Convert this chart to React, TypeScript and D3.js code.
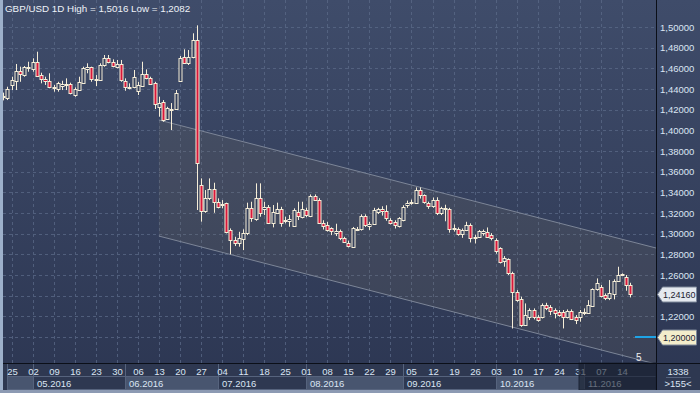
import React from 'react';
import * as d3 from 'd3';

const startDate = Date.UTC(2016, 3, 21);
const opens = [
  1.4322, 1.4310,
  1.4439, 1.4480, 1.4577, 1.4535, 1.4603,
  1.4591, 1.4664, 1.4535, 1.4494, 1.4480, 1.4422, 1.4397, 1.4432, 1.4447, 1.4445, 1.4342, 1.4390, 1.4461, 1.4597, 1.4610, 1.4494, 1.4487, 1.4632, 1.4697, 1.4664, 1.4616, 1.4642,
  1.4480, 1.4420, 1.4422, 1.4384, 1.4429, 1.4545, 1.4503, 1.4458, 1.4223, 1.4277, 1.4107, 1.4200, 1.4203, 1.4477, 1.4707, 1.4649, 1.4707, 1.4874, 1.3470, 1.3222, 1.3342, 1.3429,
  1.3309, 1.3285, 1.3293, 1.3035, 1.2938, 1.2912, 1.2945, 1.3003, 1.3245, 1.3139, 1.3342, 1.3235, 1.3255, 1.3106, 1.3203, 1.3235, 1.3128, 1.3122, 1.3074, 1.3212, 1.3163,
  1.3228, 1.3172, 1.3364, 1.3325, 1.3106, 1.3083, 1.3051, 1.3003, 1.3028, 1.2954, 1.2912, 1.2874, 1.3048, 1.3042, 1.3170, 1.3078, 1.3092, 1.3205, 1.3235, 1.3222, 1.3132, 1.3115, 1.3074,
  1.3130, 1.3274, 1.3298, 1.3300, 1.3425, 1.3370, 1.3300, 1.3267, 1.3330, 1.3197, 1.3245, 1.3240, 1.3055, 1.3045, 1.2995, 1.3035, 1.3083, 1.2965, 1.2970, 1.3010, 1.3020, 1.2990,
  1.2935, 1.2858, 1.2738, 1.2751, 1.2622, 1.2438, 1.2364, 1.2115, 1.2190, 1.2261, 1.2196, 1.2190, 1.2309, 1.2293, 1.2261, 1.2244, 1.2244, 1.2190, 1.2254, 1.2196, 1.2196,
  1.2228, 1.2235, 1.2300, 1.2461, 1.2486, 1.2406, 1.2374, 1.2415, 1.2544, 1.2600, 1.2583, 1.2503,
];
const highs = [
  1.4365, 1.4422,
  1.4519, 1.4642, 1.4616, 1.4622, 1.4664,
  1.4697, 1.4761, 1.4558, 1.4519, 1.4552, 1.4439, 1.4470, 1.4480, 1.4503, 1.4461, 1.4416, 1.4519, 1.4616, 1.4649, 1.4616, 1.4535, 1.4649, 1.4729, 1.4729, 1.4687, 1.4681, 1.4681,
  1.4503, 1.4455, 1.4584, 1.4470, 1.4664, 1.4590, 1.4519, 1.4470, 1.4325, 1.4293, 1.4228, 1.4264, 1.4390, 1.4719, 1.4784, 1.4777, 1.4939, 1.5016, 1.3535, 1.3422, 1.3535, 1.3493,
  1.3342, 1.3325, 1.3300, 1.3051, 1.2970, 1.3018, 1.3042, 1.3300, 1.3309, 1.3487, 1.3487, 1.3309, 1.3277, 1.3277, 1.3300, 1.3260, 1.3164, 1.3180, 1.3245, 1.3309, 1.3309,
  1.3252, 1.3380, 1.3380, 1.3343, 1.3130, 1.3115, 1.3061, 1.3096, 1.3040, 1.2970, 1.2932, 1.3065, 1.3065, 1.3187, 1.3187, 1.3115, 1.3250, 1.3250, 1.3265, 1.3275, 1.3150, 1.3130, 1.3160,
  1.3275, 1.3320, 1.3330, 1.3448, 1.3448, 1.3380, 1.3310, 1.3350, 1.3352, 1.3260, 1.3280, 1.3250, 1.3090, 1.3060, 1.3050, 1.3115, 1.3100, 1.2990, 1.3035, 1.3040, 1.3060, 1.3005,
  1.2955, 1.2868, 1.2783, 1.2761, 1.2632, 1.2454, 1.2390, 1.2325, 1.2277, 1.2277, 1.2212, 1.2325, 1.2331, 1.2309, 1.2277, 1.2261, 1.2261, 1.2267, 1.2267, 1.2212, 1.2261,
  1.2277, 1.2357, 1.2471, 1.2567, 1.2503, 1.2422, 1.2551, 1.2558, 1.2680, 1.2616, 1.2600, 1.2525,
];
const lows = [
  1.4290, 1.4293,
  1.4390, 1.4390, 1.4470, 1.4519, 1.4567,
  1.4567, 1.4519, 1.4455, 1.4439, 1.4407, 1.4374, 1.4374, 1.4390, 1.4390, 1.4348, 1.4325, 1.4383, 1.4455, 1.4552, 1.4470, 1.4429, 1.4480, 1.4616, 1.4649, 1.4610, 1.4600, 1.4470,
  1.4383, 1.4397, 1.4407, 1.4342, 1.4422, 1.4494, 1.4439, 1.4206, 1.4132, 1.4083, 1.4100, 1.4003, 1.4197, 1.4470, 1.4642, 1.4632, 1.4697, 1.3229, 1.3116, 1.3202, 1.3325, 1.3202,
  1.3245, 1.3245, 1.3003, 1.2800, 1.2880, 1.2874, 1.2841, 1.2986, 1.3115, 1.3125, 1.3164, 1.3180, 1.3093, 1.3061, 1.3190, 1.3067, 1.3100, 1.3067, 1.3067, 1.3132, 1.3148,
  1.3160, 1.3160, 1.3318, 1.3094, 1.3040, 1.3020, 1.2986, 1.2977, 1.2937, 1.2912, 1.2867, 1.2867, 1.3025, 1.3030, 1.3065, 1.3036, 1.3085, 1.3190, 1.3175, 1.3125, 1.3090, 1.3050, 1.3060,
  1.3120, 1.3250, 1.3280, 1.3290, 1.3340, 1.3290, 1.3240, 1.3250, 1.3180, 1.3180, 1.3120, 1.3010, 1.3020, 1.2980, 1.2960, 1.3025, 1.2915, 1.2905, 1.2960, 1.2980, 1.2960, 1.2935,
  1.2806, 1.2712, 1.2680, 1.2600, 1.2082, 1.2341, 1.2099, 1.2108, 1.2164, 1.2170, 1.2148, 1.2180, 1.2260, 1.2212, 1.2180, 1.2196, 1.2083, 1.2180, 1.2164, 1.2125, 1.2148,
  1.2212, 1.2228, 1.2293, 1.2448, 1.2383, 1.2357, 1.2357, 1.2364, 1.2535, 1.2590, 1.2448, 1.2383,
];
const closes = [
  1.4328, 1.4397,
  1.4487, 1.4577, 1.4542, 1.4610, 1.4616,
  1.4664, 1.4529, 1.4494, 1.4480, 1.4416, 1.4407, 1.4455, 1.4448, 1.4443, 1.4358, 1.4397, 1.4470, 1.4600, 1.4616, 1.4494, 1.4485, 1.4632, 1.4697, 1.4664, 1.4622, 1.4642, 1.4487,
  1.4416, 1.4424, 1.4513, 1.4439, 1.4545, 1.4503, 1.4448, 1.4255, 1.4267, 1.4100, 1.4213, 1.4208, 1.4358, 1.4697, 1.4649, 1.4707, 1.4874, 1.3681, 1.3222, 1.3342, 1.3429, 1.3309,
  1.3260, 1.3290, 1.3018, 1.2938, 1.2912, 1.2954, 1.3003, 1.3245, 1.3148, 1.3342, 1.3197, 1.3260, 1.3106, 1.3212, 1.3235, 1.3106, 1.3133, 1.3138, 1.3228, 1.3170, 1.3235,
  1.3180, 1.3364, 1.3325, 1.3106, 1.3074, 1.3035, 1.3028, 1.3028, 1.2954, 1.2922, 1.2880, 1.3051, 1.3045, 1.3170, 1.3083, 1.3092, 1.3228, 1.3235, 1.3215, 1.3155, 1.3106, 1.3083, 1.3150,
  1.3260, 1.3300, 1.3302, 1.3425, 1.3370, 1.3305, 1.3267, 1.3325, 1.3197, 1.3245, 1.3250, 1.3050, 1.3045, 1.2995, 1.3035, 1.3083, 1.2955, 1.2970, 1.3028, 1.3022, 1.2970, 1.2958,
  1.2832, 1.2728, 1.2762, 1.2616, 1.2438, 1.2357, 1.2115, 1.2212, 1.2261, 1.2190, 1.2164, 1.2309, 1.2277, 1.2254, 1.2235, 1.2212, 1.2190, 1.2254, 1.2170, 1.2164, 1.2244,
  1.2244, 1.2309, 1.2461, 1.2519, 1.2396, 1.2374, 1.2422, 1.2544, 1.2600, 1.2606, 1.2503, 1.2416,
];

const priceTicks = [1.20, 1.22, 1.24, 1.26, 1.28, 1.30, 1.32, 1.34, 1.36, 1.38, 1.40, 1.42, 1.44, 1.46, 1.48, 1.50];
const channelIdx = [37, 155.1];
const channelUpper = [1.4100, 1.2861];
const channelLower = [1.2977, 1.1738];
const alertLevel = 1.2;
const titleText = 'GBP/USD 1D High = 1,5016 Low = 1,2082';
const cornerTop = '1338';
const cornerBottom = '>155<';
const channelLabel = '5';

const W = 700;
const H = 393;
const PR = 656; // plot right
const PB = 363; // plot bottom
const FONT = '"Liberation Sans", Arial, sans-serif';
const fmt = (v: number) => v.toFixed(5).replace('.', ',');

export default function App() {
  const n = closes.length;
  const days = d3
    .utcDay.range(new Date(startDate), new Date(Date.UTC(2016, 11, 31)))
    .filter((d) => d.getUTCDay() !== 0 && d.getUTCDay() !== 6)
    .slice(0, n);
  const x = d3.scaleLinear().domain([0, n - 1]).range([3.08, 3.08 + (n - 1) * 4.21]);
  const y = d3.scaleLinear().domain([1.2, 1.5]).range([337, 27]);

  const mondays = days.map((d, i) => (d.getUTCDay() === 1 ? i : -1)).filter((i) => i >= 0);
  const monthStarts = days
    .map((d, i) => (i === 0 || d.getUTCMonth() !== days[i - 1].getUTCMonth() ? i : -1))
    .filter((i) => i >= 0);
  const dayFmt = d3.utcFormat('%d');
  const monFmt = d3.utcFormat('%m.%Y');
  const last = closes[n - 1];
  const tagLevels = [last, alertLevel];

  const px = (i: number) => Math.round(x(i)) + 0.5;

  const chPts = [
    [x(channelIdx[0]), y(channelUpper[0])],
    [x(channelIdx[1]), y(channelUpper[1])],
    [x(channelIdx[1]), y(channelLower[1])],
    [x(channelIdx[0]), y(channelLower[0])],
  ];
  const line = d3.line();

  const tag = (v: number, fill: string) => {
    const yc = Math.round(y(v)) + 0.5;
    const p = `M657.5,${yc} L662.5,${yc - 7.5} L696.5,${yc - 7.5} L696.5,${yc + 7.5} L662.5,${yc + 7.5} Z`;
    return (
      <g key={'tag' + v}>
        <path d={p} fill={fill} stroke="#7d8799" strokeWidth={1} />
        <text x={663} y={yc + 3.2} fontSize={9} fill="#1a2130" fontFamily={FONT}>
          {fmt(v)}
        </text>
      </g>
    );
  };

  return (
    <svg width={W} height={H} style={{ position: 'fixed', left: 0, top: 0, display: 'block' }}>
      <defs>
        <linearGradient id="bg" x1="0" y1="0" x2="0" y2="1">
          <stop offset="0" stopColor="#3f4c6a" />
          <stop offset="1" stopColor="#2c3652" />
        </linearGradient>
        <clipPath id="plotClip">
          <rect x={3} y={0} width={PR - 3} height={PB} />
        </clipPath>
      </defs>
      <rect x={0} y={0} width={W} height={H} fill="url(#bg)" />

      {/* grid */}
      <g stroke="#5b6a88" strokeWidth={1} strokeDasharray="3,3" opacity={0.75}>
        {priceTicks.map((t) => (
          <line key={'h' + t} x1={3} x2={PR} y1={Math.round(y(t)) + 0.5} y2={Math.round(y(t)) + 0.5} />
        ))}
        {mondays.map((i) => (
          <line key={'v' + i} x1={px(i)} x2={px(i)} y1={0} y2={PB} />
        ))}
      </g>

      {/* regression channel */}
      <g clipPath="url(#plotClip)">
        <path d={line(chPts as [number, number][]) + 'Z'} fill="rgba(115,112,100,0.2)" />
        <line x1={chPts[0][0]} y1={chPts[0][1]} x2={chPts[1][0]} y2={chPts[1][1]} stroke="#7c8597" strokeWidth={1} />
        <line x1={chPts[3][0]} y1={chPts[3][1]} x2={chPts[2][0]} y2={chPts[2][1]} stroke="#7c8597" strokeWidth={1} />
      </g>

      {/* candles */}
      <g clipPath="url(#plotClip)">
        {closes.map((c, i) => {
          const o = opens[i];
          const cx = px(i);
          const top = Math.round(y(Math.max(o, c)));
          const bot = Math.round(y(Math.min(o, c)));
          const h = Math.max(bot - top, 1);
          const bear = c < o;
          return (
            <g key={i}>
              <line x1={cx} x2={cx} y1={y(highs[i])} y2={y(lows[i])} stroke="#f6eed8" strokeWidth={1} />
              <rect
                x={cx - 1.5}
                y={top + 0.5}
                width={3}
                height={h}
                fill={bear ? '#d8173a' : '#34405c'}
                stroke="#f6eed8"
                strokeWidth={1}
              />
            </g>
          );
        })}
      </g>

      {/* alert line */}
      <line x1={635} x2={PR} y1={y(alertLevel)} y2={y(alertLevel)} stroke="#1ea3e6" strokeWidth={2} />
      <text x={636} y={361} fontSize={10} fill="#f0f0f0" fontFamily={FONT}>
        {channelLabel}
      </text>

      {/* title */}
      <text x={5} y={12} fontSize={9.8} fill="#eef2f8" fontFamily={FONT}>
        {titleText}
      </text>

      {/* right axis */}
      <line x1={PR + 0.5} x2={PR + 0.5} y1={0} y2={H} stroke="#0b0f18" strokeWidth={1} />
      {priceTicks
        .filter((t) => tagLevels.every((v) => Math.abs(y(t) - y(v)) > 9))
        .map((t) => (
          <text key={'l' + t} x={660} y={y(t) + 3.5} fontSize={9.5} fill="#dbe5f3" fontFamily={FONT}>
            {fmt(t)}
          </text>
        ))}
      {tag(last, '#e4e9ef')}
      {tag(alertLevel, '#f3edcb')}

      {/* bottom axis */}
      <rect x={0} y={PB} width={W} height={H - PB} fill="#2e3851" />
      {monthStarts.map((i, k) => {
        const x0 = Math.max(Math.round(x(i)), 7);
        const x1 = k + 1 < monthStarts.length ? Math.round(x(monthStarts[k + 1])) : PR;
        return (
          <g key={'m' + i}>
            <rect x={x0 + 0.5} y={376.5} width={x1 - x0} height={13} fill={k % 2 === 0 ? '#48556f' : '#2e3851'} stroke="#56637d" strokeWidth={1} />
            <line x1={x0 + 0.5} x2={x0 + 0.5} y1={PB} y2={390} stroke="#56637d" strokeWidth={1} />
            {x1 - x0 > 40 && (
              <text x={x0 + 4} y={386.5} fontSize={9.5} fill="#dbe5f3" fontFamily={FONT}>
                {monFmt(days[i])}
              </text>
            )}
          </g>
        );
      })}
      {mondays.map((i) => (
        <text key={'d' + i} x={px(i)} y={375} textAnchor="middle" fontSize={9.5} fill="#dbe5f3" fontFamily={FONT}>
          {dayFmt(days[i])}
        </text>
      ))}
      <rect x={579} y={PB} width={PR - 579} height={27} fill="rgba(22,28,44,0.6)" stroke="#1d2436" />
      <line x1={0} x2={W} y1={PB + 0.5} y2={PB + 0.5} stroke="#0b0f18" strokeWidth={1} />
      <line x1={PR + 0.5} x2={PR + 0.5} y1={PB} y2={H} stroke="#0b0f18" strokeWidth={1} />

      {/* corner */}
      <text x={678} y={375} textAnchor="middle" fontSize={9.5} fill="#dbe5f3" fontFamily={FONT}>
        {cornerTop}
      </text>
      <line x1={666} x2={691} y1={377.5} y2={377.5} stroke="#56637d" />
      <text x={678} y={387} textAnchor="middle" fontSize={9.5} fill="#dbe5f3" fontFamily={FONT}>
        {cornerBottom}
      </text>

      {/* frame */}
      <rect x={0} y={0} width={3} height={H} fill="#9db0ca" />
      <rect x={0} y={390} width={W} height={3} fill="#8c9ab3" />
    </svg>
  );
}
